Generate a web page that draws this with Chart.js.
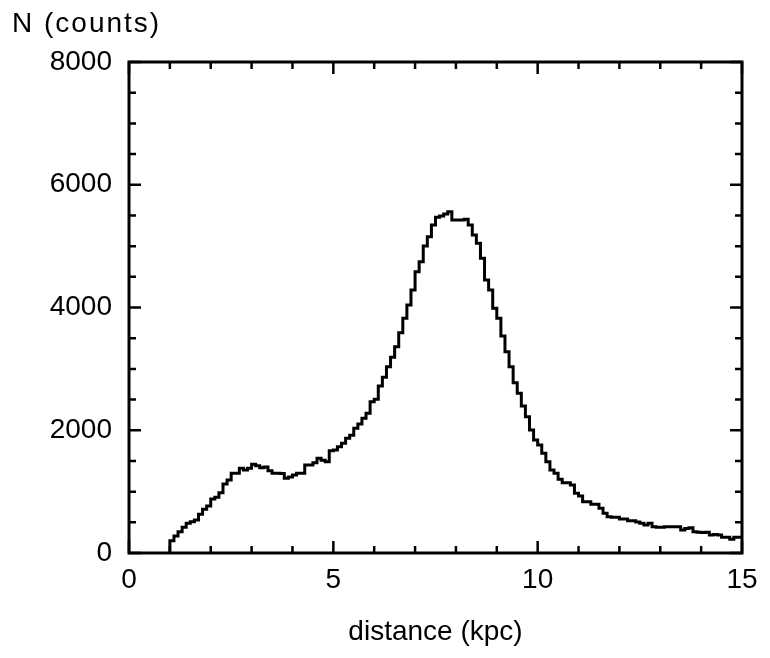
<!DOCTYPE html>
<html>
<head>
<meta charset="utf-8">
<script src="https://cdn.jsdelivr.net/npm/chart.js@4.4.1/dist/chart.umd.min.js"></script>
<style>
  html, body { margin: 0; padding: 0; background: #fff; }
</style>
</head>
<body>
<canvas id="hist" width="770" height="658"></canvas>
<script>
// Histogram: 0.1 kpc bins, first bin starts at 1.0 kpc

var binStart = 1.0;
var binWidth = 0.1;

var counts = [
  200, 277, 347, 418, 484, 510, 538, 630, 712, 766,          // 1.0 - 1.9
  880, 907, 982, 1124, 1190, 1298, 1298, 1380, 1352, 1380,   // 2.0 - 2.9
  1445, 1420, 1390, 1400, 1341, 1298, 1298, 1295, 1217, 1240,// 3.0 - 3.9
  1270, 1298, 1298, 1434, 1434, 1471, 1543, 1510, 1488, 1667,// 4.0 - 4.9
  1680, 1732, 1787, 1868, 1920, 2031, 2101, 2194, 2276, 2465,// 5.0 - 5.9
  2504, 2720, 2862, 3035, 3188, 3361, 3589, 3823, 4040, 4285,// 6.0 - 6.9
  4583, 4746, 5002, 5153, 5344, 5469, 5490, 5523, 5561, 5425,// 7.0 - 7.9
  5425, 5425, 5437, 5344, 5181, 5046, 4801, 4448, 4285, 3986,// 8.0 - 8.9
  3823, 3535, 3280, 3035, 2775, 2602, 2395, 2221, 2004, 1841,// 9.0 - 9.9
  1760, 1624, 1488, 1352, 1298, 1200, 1146, 1146, 1108, 972, // 10.0 - 10.9
  929, 836, 836, 793, 793, 728, 647, 592, 581, 581,          // 11.0 - 11.9
  554, 554, 527, 527, 505, 484, 456, 484, 429, 418,          // 12.0 - 12.9
  418, 429, 429, 429, 429, 375, 401, 410, 347, 340,          // 13.0 - 13.9
  336, 337, 293, 300, 293, 255, 255, 223, 255, 255           // 14.0 - 14.9
];

var xTicks = [0, 5, 10, 15];
var yTicks = [0, 2000, 4000, 6000, 8000];

var FONT = '"Liberation Sans", Arial, sans-serif';

// step points: rise from 0 at the first edge, hold last bin to the end
var points = [{ x: binStart, y: 0 }];
counts.forEach(function (c, i) {
  points.push({ x: Math.round((binStart + i * binWidth) * 10) / 10, y: c });
});
points.push({ x: Math.round((binStart + counts.length * binWidth) * 10) / 10, y: counts[counts.length - 1] });

// frame, inward ticks on all four sides, y label
var frameTicks = {
  id: 'frameTicks',
  afterDatasetsDraw: function (chart) {
    var ctx = chart.ctx, a = chart.chartArea;
    var xs = chart.scales.x, ys = chart.scales.y;
    ctx.save();
    ctx.strokeStyle = '#000';
    ctx.lineWidth = 2.5;
    ctx.beginPath();
    for (var v = xs.min; v <= xs.max; v += 1) {
      var px = xs.getPixelForValue(v);
      var len = (v % 5 === 0) ? 12 : 7;
      ctx.moveTo(px, a.bottom); ctx.lineTo(px, a.bottom - len);
      ctx.moveTo(px, a.top); ctx.lineTo(px, a.top + len);
    }
    for (var w = ys.min; w <= ys.max; w += 500) {
      var py = ys.getPixelForValue(w);
      var ln = (w % 2000 === 0) ? 12 : 7;
      ctx.moveTo(a.left, py); ctx.lineTo(a.left + ln, py);
      ctx.moveTo(a.right, py); ctx.lineTo(a.right - ln, py);
    }
    ctx.stroke();
    ctx.lineWidth = 3;
    ctx.strokeRect(a.left, a.top, a.right - a.left, a.bottom - a.top);

    ctx.fillStyle = '#000';
    ctx.font = '28px ' + FONT;
    ctx.letterSpacing = '2px';
    ctx.textBaseline = 'middle';
    ctx.textAlign = 'left';
    ctx.fillText('N (counts)', 12, 24);
    ctx.restore();
  }
};

new Chart(document.getElementById('hist'), {
  type: 'line',
  data: {
    datasets: [{
      data: points,
      stepped: true,
      borderColor: '#000',
      borderWidth: 3,
      pointRadius: 0,
      fill: false
    }]
  },
  options: {
    responsive: false,
    animation: false,
    devicePixelRatio: 1,
    layout: {
      padding: { top: 62, right: 28, left: 0, bottom: 0 }
    },
    plugins: {
      legend: { display: false },
      tooltip: { enabled: false }
    },
    scales: {
      x: {
        type: 'linear',
        min: 0,
        max: 15,
        afterBuildTicks: function (s) {
          s.ticks = xTicks.map(function (v) { return { value: v }; });
        },
        afterFit: function (s) { s.height = 105; },
        grid: { display: false, drawTicks: false },
        border: { display: false },
        ticks: {
          color: '#000',
          font: { family: FONT, size: 28 },
          padding: 10,
          maxRotation: 0,
          autoSkip: false
        },
        title: {
          display: true,
          text: 'distance (kpc)',
          color: '#000',
          font: { family: FONT, size: 28 },
          padding: { top: 0, bottom: 9 }
        }
      },
      y: {
        min: 0,
        max: 8000,
        afterBuildTicks: function (s) {
          s.ticks = yTicks.map(function (v) { return { value: v }; });
        },
        afterFit: function (s) { s.width = 129; },
        grid: { display: false, drawTicks: false },
        border: { display: false },
        ticks: {
          color: '#000',
          font: { family: FONT, size: 28 },
          padding: 17,
          autoSkip: false,
          callback: function (v) { return String(v); }
        }
      }
    }
  },
  plugins: [frameTicks]
});
</script>
</body>
</html>
